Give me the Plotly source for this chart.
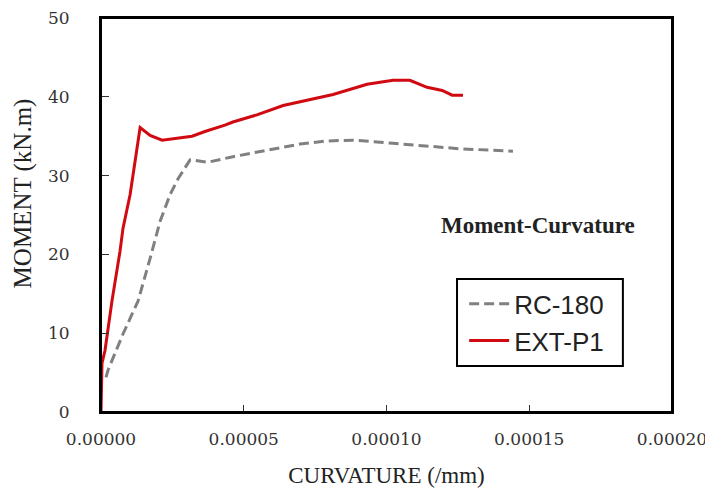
import plotly.graph_objects as go

# RC-180 (gray dashed)
rc_curv = [1.75e-6, 2.45e-6, 7.7e-6, 1.30e-5, 1.72e-5, 2.07e-5, 2.42e-5, 2.70e-5,
           3.12e-5, 3.75e-5, 4.62e-5, 5.82e-5, 6.97e-5, 7.92e-5, 8.83e-5,
           1.023e-4, 1.142e-4, 1.258e-4, 1.443e-4]
rc_mom = [4.4, 5.3, 9.9, 14.1, 19.5, 24.2, 27.6, 29.6,
          32.0, 31.7, 32.4, 33.2, 34.0, 34.4, 34.5,
          34.1, 33.75, 33.4, 33.1]

# EXT-P1 (red solid)
ext_curv = [0.0, 3.5e-7, 1.4e-6, 3.85e-6, 6.66e-6, 7.7e-6, 1.02e-5, 1.19e-5,
            1.37e-5, 1.72e-5, 2.14e-5, 3.19e-5, 3.64e-5, 4.34e-5, 4.62e-5,
            5.46e-5, 6.38e-5, 8.13e-5, 9.32e-5, 1.023e-4, 1.082e-4, 1.142e-4,
            1.195e-4, 1.23e-4, 1.268e-4]
ext_mom = [0.0, 6.2, 7.8, 14.1, 20.4, 23.3, 27.6, 31.7,
           36.1, 35.1, 34.5, 35.0, 35.6, 36.4, 36.8,
           37.7, 38.9, 40.3, 41.6, 42.1, 42.1, 41.2,
           40.8, 40.2, 40.2]

x_ticks = [0.0, 0.00005, 0.00010, 0.00015, 0.00020]
y_ticks = [0, 10, 20, 30, 40, 50]

fig = go.Figure()
fig.add_trace(go.Scatter(
    x=rc_curv, y=rc_mom, mode="lines", name="RC-180", legendgroup="a",
    line=dict(color="#808080", width=3, dash="10px,5px")))
fig.add_trace(go.Scatter(
    x=ext_curv, y=ext_mom, mode="lines", name="EXT-P1", legendgroup="b",
    line=dict(color="#d10a12", width=3)))

serif = "Liberation Serif, Times New Roman, serif"
tickserif = "DejaVu Serif, serif"
fig.update_layout(
    width=705, height=486,
    margin=dict(l=93, r=41, t=10, b=82),
    paper_bgcolor="white", plot_bgcolor="white",
    font=dict(family=serif, color="#222222", size=20),
    xaxis=dict(
        range=[0, 0.0002], tickvals=x_ticks, tickformat=".5f",
        ticks="inside", ticklen=7, tickwidth=1, tickcolor="#333",
        showline=True, linewidth=2, linecolor="black", mirror=True,
        showgrid=False, zeroline=False, automargin=False,
        ticklabelstandoff=11, ticklabeloverflow="allow",
        title=dict(text="CURVATURE (/mm)", font=dict(family=serif, size=23), standoff=18),
        tickfont=dict(family=tickserif, size=17, color="#333"),
    ),
    yaxis=dict(
        range=[0, 50], tickvals=y_ticks,
        ticks="inside", ticklen=8, tickwidth=1, tickcolor="#333",
        showline=True, linewidth=2, linecolor="black", mirror=True,
        showgrid=False, zeroline=False, automargin=False,
        ticklabelstandoff=26, ticklabeloverflow="allow",
        tickfont=dict(family=tickserif, size=17, color="#333"),
    ),
    legend=dict(
        x=0.636, y=0.334, xanchor="left", yanchor="top",
        borderwidth=0, bgcolor="rgba(0,0,0,0)",
        font=dict(family="Liberation Sans, Arial, sans-serif", size=26, color="#222"),
        traceorder="grouped", tracegroupgap=0, itemwidth=40,
    ),
    shapes=[
        dict(type="rect", xref="paper", yref="paper",
             x0=0.6235, x1=0.914, y0=0.1168, y1=0.3376,
             line=dict(color="black", width=2), fillcolor="rgba(0,0,0,0)"),
        dict(type="rect", xref="paper", yref="paper",
             x0=0, x1=1, y0=0, y1=1,
             line=dict(color="black", width=2), fillcolor="rgba(0,0,0,0)"),
    ],
    annotations=[
        dict(text="<b>Moment-Curvature</b>", x=0.765, y=0.4746, xref="paper", yref="paper",
             xanchor="center", yanchor="middle", showarrow=False,
             font=dict(family=serif, size=23, color="#222")),
        dict(text="MOMENT (kN.m)", x=-0.135, y=0.5546, xref="paper", yref="paper",
             xanchor="center", yanchor="middle", showarrow=False, textangle=-90,
             font=dict(family=serif, size=25, color="#222")),
    ],
)

fig.write_html("out.html")
